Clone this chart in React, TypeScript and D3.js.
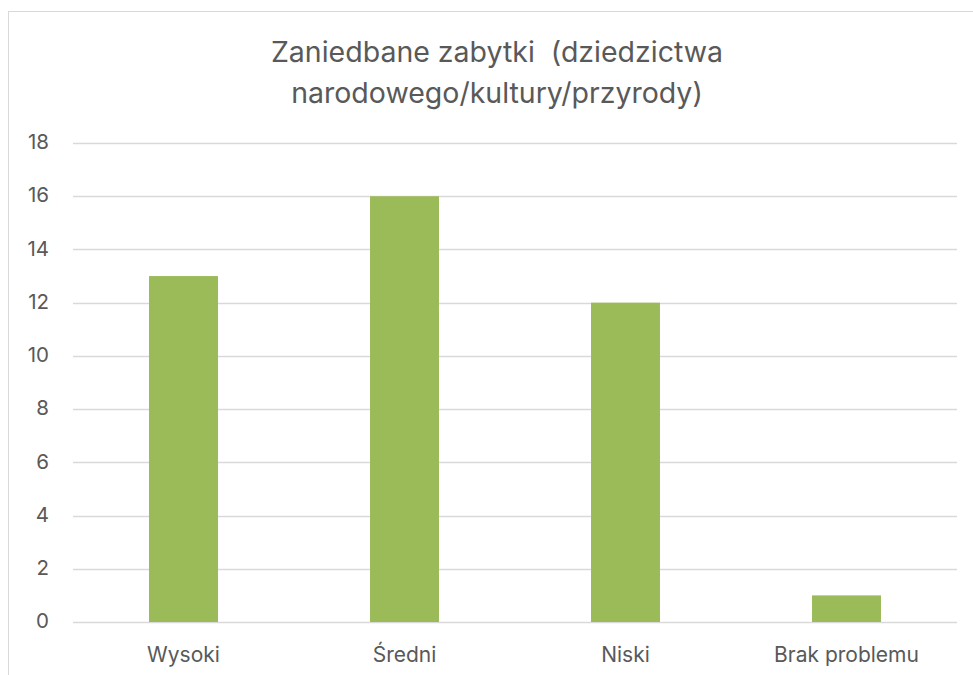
import React, { useEffect, useRef } from "react";
import * as d3 from "d3";

const WIDTH = 973;
const HEIGHT = 675;

const categories = ["Wysoki", "Średni", "Niski", "Brak problemu"];
const values = [13, 16, 12, 1];
const yTicks = [0, 2, 4, 6, 8, 10, 12, 14, 16, 18];
const titleLines = ["Zaniedbane zabytki  (dziedzictwa", "narodowego/kultury/przyrody)"];

const FONT = "Inter, 'Open Sans', sans-serif";
const TEXT = "#595959";
const GRID = "#d9d9d9";
const BAR = "#9bbb59";

export default function App() {
  const svgRef = useRef<SVGSVGElement>(null);

  useEffect(() => {
    const svg = d3.select(svgRef.current);
    svg.selectAll("*").remove();

    const left = 73;
    const right = 957;
    const top = 143;
    const bottom = 622;

    const x = d3.scaleBand<string>().domain(categories).range([left, right]).padding(0);
    const y = d3.scaleLinear().domain([0, 18]).range([bottom, top]);
    const barW = x.bandwidth() * 0.312;

    // chart border
    svg.append("rect")
      .attr("x", 8.5).attr("y", 11.5)
      .attr("width", WIDTH + 20).attr("height", HEIGHT + 20)
      .attr("fill", "white").attr("stroke", GRID).attr("stroke-width", 1);

    // title
    svg.append("text")
      .attr("x", 497).attr("y", 62)
      .attr("text-anchor", "middle")
      .attr("font-family", FONT).attr("font-size", 28.5).attr("fill", TEXT)
      .selectAll("tspan")
      .data(titleLines)
      .join("tspan")
      .attr("x", 497)
      .attr("dy", (_d, i) => (i === 0 ? 0 : 41))
      .style("white-space", "pre")
      .text((d) => d);

    // gridlines
    svg.append("g")
      .selectAll("line")
      .data(yTicks)
      .join("line")
      .attr("x1", left).attr("x2", right)
      .attr("y1", (d) => Math.round(y(d)) + 0.5)
      .attr("y2", (d) => Math.round(y(d)) + 0.5)
      .attr("stroke", GRID).attr("stroke-width", 1.5);

    // y labels
    svg.append("g")
      .selectAll("text")
      .data(yTicks)
      .join("text")
      .attr("x", 49)
      .attr("y", (d) => y(d) - 1)
      .attr("dy", "0.35em")
      .attr("text-anchor", "end")
      .attr("font-family", FONT).attr("font-size", 20.5).attr("fill", TEXT)
      .text((d) => d);

    // bars
    svg.append("g")
      .selectAll("rect")
      .data(values)
      .join("rect")
      .attr("x", (_d, i) => x(categories[i])! + x.bandwidth() / 2 - barW / 2)
      .attr("y", (d) => y(d))
      .attr("width", barW)
      .attr("height", (d) => y(0) - y(d))
      .attr("fill", BAR);

    // x labels
    svg.append("g")
      .selectAll("text")
      .data(categories)
      .join("text")
      .attr("x", (d) => x(d)! + x.bandwidth() / 2)
      .attr("y", 662)
      .attr("text-anchor", "middle")
      .attr("font-family", FONT).attr("font-size", 21).attr("fill", TEXT)
      .text((d) => d);
  }, []);

  return (
    <div style={{ position: "fixed", left: 0, top: 0, width: WIDTH, height: HEIGHT, background: "white" }}>
      <svg ref={svgRef} width={WIDTH} height={HEIGHT} style={{ display: "block" }} />
    </div>
  );
}
